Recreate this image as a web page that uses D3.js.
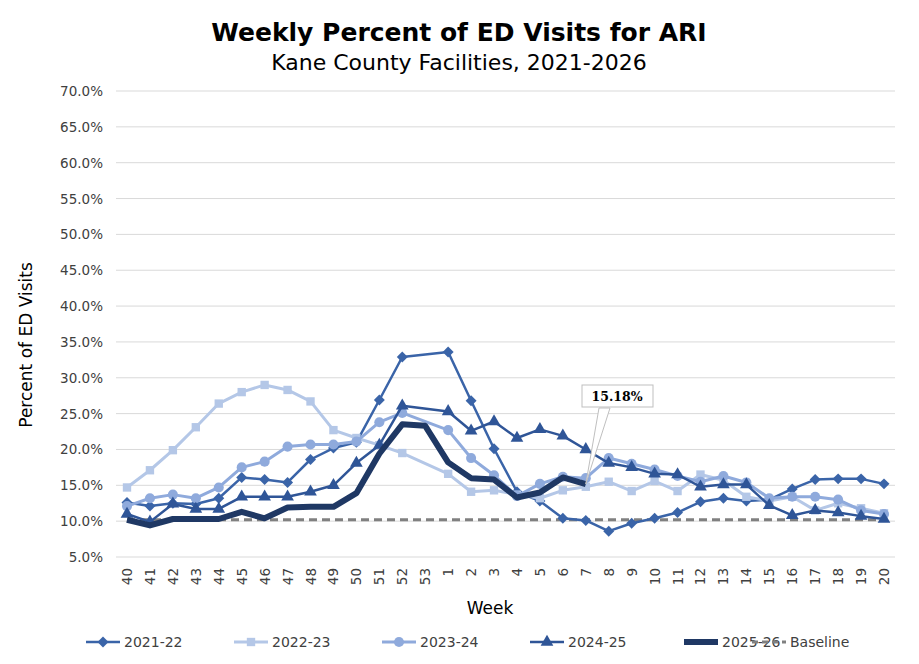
<!DOCTYPE html>
<html>
<head>
<meta charset="utf-8">
<script src="https://cdn.jsdelivr.net/npm/d3@7"></script>
<style>
  body { margin: 0; background: #fff; }
  svg { font-family: "DejaVu Sans", Verdana, sans-serif; }
</style>
</head>
<body>
<svg id="chart" width="919" height="664"></svg>
<script>
// Week Categories
const weeks = ["40","41","42","43","44","45","46","47","48","49","50","51","52","53",
  "1","2","3","4","5","6","7","8","9","10","11","12","13","14","15","16","17","18","19","20"];

// Series Values (null = no week 53 that season)
const s2122 = [12.6,12.1,12.5,12.4,13.2,16.1,15.8,15.4,18.6,20.2,21.0,26.9,32.9,null,
  33.6,26.8,20.1,14.1,12.8,10.4,10.1,8.6,9.7,10.4,11.2,12.7,13.2,12.8,13.0,14.5,15.8,15.9,15.9,15.2];
const s2223 = [14.7,17.1,19.9,23.1,26.4,28.0,29.0,28.3,26.7,22.7,21.6,20.6,19.5,null,
  16.6,14.1,14.3,13.7,13.2,14.3,14.8,15.5,14.2,15.6,14.2,16.5,15.7,13.4,12.8,13.4,11.5,12.5,11.8,11.1];
const s2324 = [12.1,13.2,13.7,13.2,14.7,17.5,18.3,20.4,20.7,20.7,21.1,23.8,25.1,null,
  22.7,18.8,16.4,13.5,15.2,16.2,16.0,18.8,18.0,17.2,16.3,15.5,16.3,15.4,13.2,13.4,13.4,13.0,11.5,11.0];
const s2425 = [11.0,9.9,12.4,11.7,11.7,13.4,13.4,13.4,14.1,15.0,18.1,20.6,26.1,null,
  25.3,22.6,23.9,21.6,22.8,21.9,20.0,18.1,17.5,16.6,16.5,14.8,15.1,15.1,12.2,10.8,11.5,11.2,10.7,10.3];
const s2526 = [10.2,9.4,10.3,10.3,10.3,11.3,10.4,11.9,12.0,12.0,13.9,19.4,23.5,23.3,
  18.2,16.0,15.8,13.3,14.0,16.1,15.18];
const baseline = 10.2;
const yTicks = [5,10,15,20,25,30,35,40,45,50,55,60,65,70];

const svg = d3.select("#chart");
const margin = { left: 116, right: 24 };
const W = 919;

// Scales
const x = d3.scalePoint().domain(weeks).range([127, 884]);
const y = d3.scaleLinear().domain([5, 70]).range([557, 91]);

// Gridlines
svg.append("g").selectAll("line").data(yTicks.slice(1)).enter().append("line")
  .attr("x1", margin.left).attr("x2", W - margin.right)
  .attr("y1", d => y(d)).attr("y2", d => y(d))
  .attr("stroke", "#d9d9d9").attr("stroke-width", 1);

// Y Axis Labels
svg.append("g").selectAll("text").data(yTicks).enter().append("text")
  .attr("x", 103).attr("y", d => y(d) + 5)
  .attr("text-anchor", "end").attr("font-size", 13.5).attr("fill", "#404040")
  .text(d => d.toFixed(1) + "%");

// X Axis Line And Labels
svg.append("line").attr("x1", margin.left).attr("x2", W - margin.right)
  .attr("y1", y(5)).attr("y2", y(5)).attr("stroke", "#d9d9d9");
svg.append("g").selectAll("text").data(weeks).enter().append("text")
  .attr("transform", d => `translate(${x(d) + 5},${568}) rotate(-90)`)
  .attr("text-anchor", "end").attr("font-size", 13.5).attr("fill", "#404040")
  .text(d => d);

// Baseline
svg.append("line").attr("x1", x(weeks[0])).attr("x2", x(weeks[weeks.length - 1]))
  .attr("y1", y(baseline)).attr("y2", y(baseline))
  .attr("stroke", "#808080").attr("stroke-width", 3).attr("stroke-dasharray", "8,5");

// Series Definitions
const series = [
  { name: "2021-22", values: s2122, color: "#3a64a8", width: 2.5, marker: d3.symbolSquare, size: 60, rot: 45 },
  { name: "2022-23", values: s2223, color: "#b4c7e7", width: 3, marker: d3.symbolSquare, size: 70, rot: 0 },
  { name: "2023-24", values: s2324, color: "#8faadc", width: 3, marker: d3.symbolCircle, size: 80, rot: 0 },
  { name: "2024-25", values: s2425, color: "#2f5597", width: 2.5, marker: d3.symbolTriangle, size: 70, rot: 0 },
  { name: "2025-26", values: s2526, color: "#1f3864", width: 6, marker: null, size: 0, rot: 0 }
];

const line = d3.line().x(d => x(d.w)).y(d => y(d.v));

series.forEach(s => {
  const pts = s.values.map((v, i) => ({ w: weeks[i], v: v })).filter(d => d.v !== null);
  svg.append("path").datum(pts).attr("d", line)
    .attr("fill", "none").attr("stroke", s.color).attr("stroke-width", s.width)
    .attr("stroke-linejoin", "round");
  if (s.marker) {
    svg.append("g").selectAll("path").data(pts).enter().append("path")
      .attr("d", d3.symbol().type(s.marker).size(s.size))
      .attr("transform", d => `translate(${x(d.w)},${y(d.v)}) rotate(${s.rot})`)
      .attr("fill", s.color);
  }
});

// Callout For Latest Value
const last = s2526[s2526.length - 1];
const lx = x(weeks[s2526.length - 1]), ly = y(last);
svg.append("path")
  .attr("d", `M${lx},${ly} L599,408 L610,408 Z`)
  .attr("fill", "#fff").attr("stroke", "#bfbfbf");
svg.append("rect").attr("x", 582).attr("y", 385).attr("width", 71).attr("height", 22)
  .attr("fill", "#fff").attr("stroke", "#bfbfbf");
svg.append("text").attr("x", 617).attr("y", 401).attr("text-anchor", "middle")
  .attr("font-size", 12.5).attr("font-weight", "bold").attr("font-family", "DejaVu Serif")
  .attr("fill", "#000").text(last.toFixed(2) + "%");

// Titles
svg.append("text").attr("x", 459).attr("y", 41).attr("text-anchor", "middle")
  .attr("font-size", 25).attr("font-weight", "bold").text("Weekly Percent of ED Visits for ARI");
svg.append("text").attr("x", 459).attr("y", 70).attr("text-anchor", "middle")
  .attr("font-size", 22).text("Kane County Facilities, 2021-2026");

// Axis Titles
svg.append("text").attr("transform", "translate(32,345) rotate(-90)")
  .attr("text-anchor", "middle").attr("font-size", 17).text("Percent of ED Visits");
svg.append("text").attr("x", 490).attr("y", 614).attr("text-anchor", "middle")
  .attr("font-size", 17).text("Week");

// Legend
const legendItems = series.concat([{ name: "Baseline", color: "#808080", width: 3, marker: null, dash: "6,4" }]);
const legendX = [86, 234, 382, 530, 684, 752];
legendItems.forEach((s, i) => {
  const g = svg.append("g").attr("transform", `translate(${legendX[i]},642)`);
  g.append("line").attr("x1", 0).attr("x2", 34).attr("y1", 0).attr("y2", 0)
    .attr("stroke", s.color).attr("stroke-width", s.width)
    .attr("stroke-dasharray", s.dash || null);
  if (s.marker) {
    g.append("path").attr("d", d3.symbol().type(s.marker).size(s.size))
      .attr("transform", `translate(17,0) rotate(${s.rot})`).attr("fill", s.color);
  }
  g.append("text").attr("x", 38).attr("y", 5).attr("font-size", 14).attr("fill", "#404040").text(s.name);
});
</script>
</body>
</html>
